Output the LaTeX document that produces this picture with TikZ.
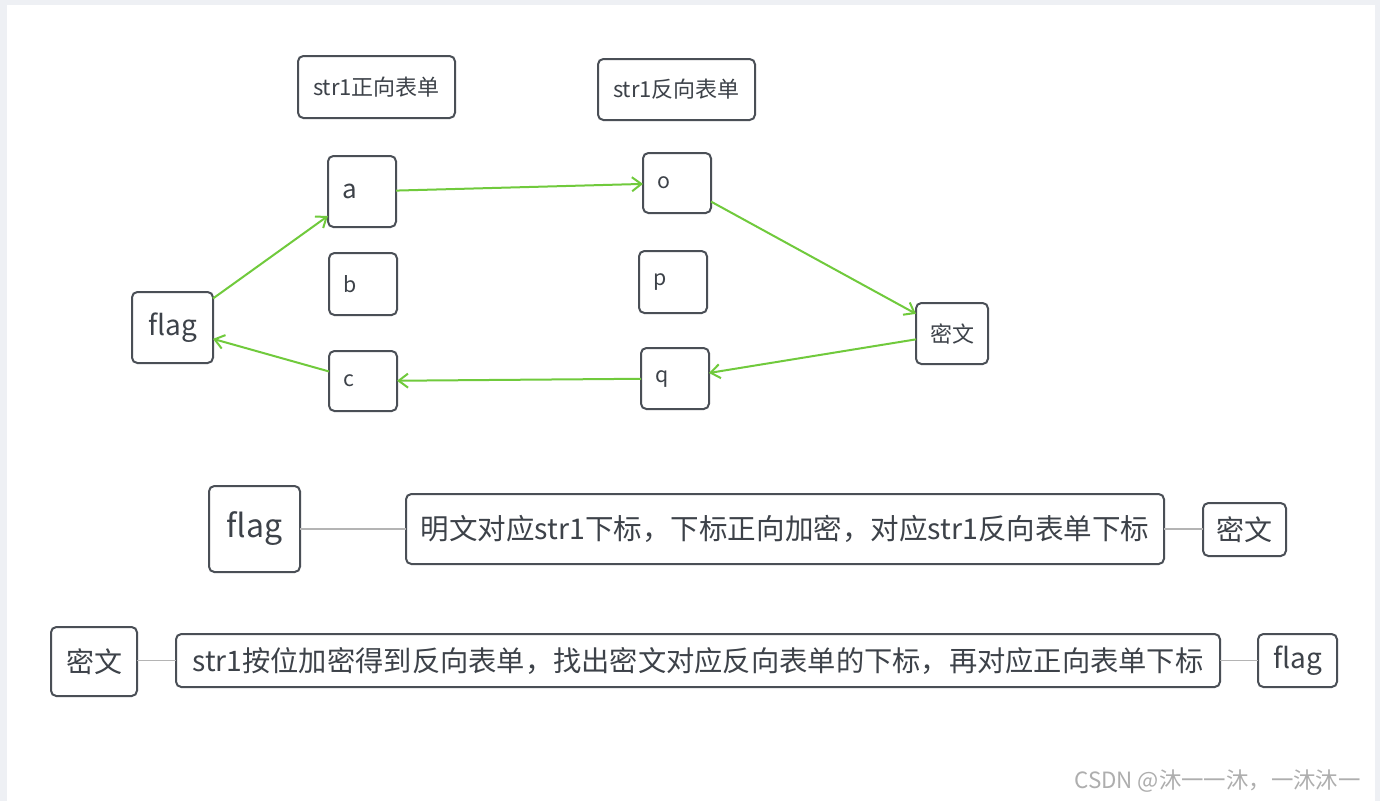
\documentclass[tikz,border=0pt]{standalone}
\usepackage{fontspec}
\setmainfont{Noto Sans CJK SC}
\usetikzlibrary{arrows.meta}
\definecolor{bgc}{HTML}{EEF0F4}
\definecolor{boxc}{HTML}{4A4F56}
\definecolor{txtc}{HTML}{3D4249}
\definecolor{grn}{RGB}{112,202,60}
\definecolor{lnc}{HTML}{B4B4B4}
\definecolor{wmc}{HTML}{AEAEAE}
\tikzset{
  bx/.style={draw=boxc, line width=1.5pt, rounded corners=4pt, fill=white, text=txtc, inner sep=0pt, outer sep=0pt, align=center},
  lbx/.style={bx, align=left, inner xsep=11pt, text width=#1},
  gar/.style={draw=grn, line width=1.5pt, -{Straight Barb[length=7pt,width=10.5pt,line width=1.5pt]}},
  gln/.style={draw=lnc, line width=0.9pt},
}
\begin{document}
\begin{tikzpicture}[x=0.75pt,y=-0.75pt]
\fill[bgc] (0,0) rectangle (1380,801);
\fill[white] (7,5) rectangle (1375,801);
\useasboundingbox (0,0) rectangle (1380,801);

% headers
\node[bx, minimum width=117.75pt, minimum height=46.5pt, font=\fontsize{16.5pt}{18pt}\selectfont] (t1) at (376.5,87) {str1正向表单};
\node[bx, minimum width=117.75pt, minimum height=45.75pt, font=\fontsize{16.5pt}{18pt}\selectfont] (t2) at (676.5,89.5) {str1反向表单};

% letter boxes
\node[lbx=29pt, minimum height=53.25pt, font=\fontsize{19.5pt}{20pt}\selectfont] (a) at (362,191.5) {a};
\node[lbx=29pt, minimum height=46.5pt, font=\fontsize{16pt}{18pt}\selectfont] (b) at (363,284) {b};
\node[lbx=29pt, minimum height=45pt, font=\fontsize{16pt}{18pt}\selectfont] (c) at (363,381) {c};
\node[lbx=29pt, minimum height=45pt, font=\fontsize{16pt}{18pt}\selectfont] (o) at (677,183) {o};
\node[lbx=29pt, minimum height=46.5pt, font=\fontsize{16pt}{18pt}\selectfont] (p) at (673,282) {p};
\node[lbx=29pt, minimum height=45.75pt, font=\fontsize{16pt}{18pt}\selectfont] (q) at (675,378.5) {q};

\node[bx, minimum width=60.75pt, minimum height=53.25pt, font=\fontsize{21pt}{22pt}\selectfont] (flag) at (172.5,327.5) {flag};
\node[bx, minimum width=54pt, minimum height=45.75pt, font=\fontsize{16.5pt}{18pt}\selectfont] (mw) at (952,333.5) {密文};

\draw[gar] (flag) -- (a);
\draw[gar] (a) -- (o);
\draw[gar] (o) -- (mw);
\draw[gar] (mw) -- (q);
\draw[gar] (q) -- (c);
\draw[gar] (c) -- (flag);

% row 1
\node[bx, minimum width=68.25pt, minimum height=64.5pt, font=\fontsize{24pt}{26pt}\selectfont] (F2) at (254.5,529) {flag};
\node[bx, minimum width=568.5pt, minimum height=52.5pt, font=\fontsize{21.4pt}{24pt}\selectfont] (M1) at (785,529) {明文对应str1下标，下标正向加密，对应str1反向表单下标};
\node[bx, minimum width=62.25pt, minimum height=39.75pt, font=\fontsize{21pt}{22pt}\selectfont] (C1) at (1244.5,529.5) {密文};
\draw[gln] (F2) -- (F2 -| M1.west);
\draw[gln] (M1.east) -- (M1.east -| C1.west);

% row 2
\node[bx, minimum width=64.5pt, minimum height=51.75pt, font=\fontsize{21pt}{22pt}\selectfont] (C2) at (94,661.5) {密文};
\node[bx, minimum width=783pt, minimum height=39.75pt, font=\fontsize{21.2pt}{24pt}\selectfont] (M2) at (698,660.5) {str1按位加密得到反向表单，找出密文对应反向表单的下标，再对应正向表单下标};
\node[bx, minimum width=59.25pt, minimum height=39.75pt, font=\fontsize{21pt}{22pt}\selectfont] (F3) at (1297.5,660.5) {flag};
\draw[gln] (C2.east |- M2) -- (M2.west);
\draw[gln] (M2.east) -- (F3.west);

% watermark
\node[anchor=east, text=wmc, inner sep=0pt, font=\fontsize{16.8pt}{18pt}\selectfont] (wm) at (1361,781) {CSDN @沐一一沐，一沐沐一};
\end{tikzpicture}
\end{document}
